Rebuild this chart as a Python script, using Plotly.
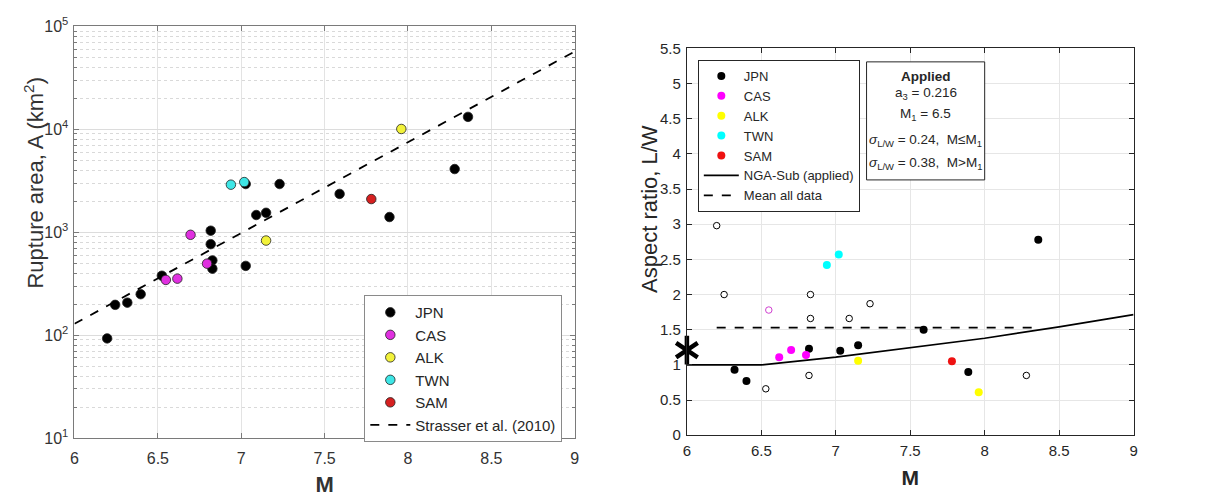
import plotly.graph_objects as go

# ---------------- Left panel: rupture area vs M ----------------
jpn_M = [6.196, 6.244, 6.317, 6.397, 6.524, 6.817, 6.817, 6.827, 6.827, 7.027,
         7.027, 7.09, 7.149, 7.23, 7.59, 7.889, 8.28, 8.36]
jpn_A = [93, 197, 207, 250, 378, 1035, 766, 532, 442, 471,
         2940, 1470, 1545, 2940, 2355, 1405, 4110, 13200]
cas_M = [6.548, 6.617, 6.696, 6.795]
cas_A = [344, 354, 944, 495]
alk_M = [7.149, 7.96]
alk_A = [830, 10070]
twn_M = [6.938, 7.018]
twn_A = [2897, 3070]
sam_M = [7.78]
sam_A = [2100]
strasser_M = [6.0, 9.0]
strasser_A = [129, 57000]
ytick_vals = [10, 100, 1000, 10000, 100000]
ytick_text = ["10<sup>1</sup>", "10<sup>2</sup>", "10<sup>3</sup>", "10<sup>4</sup>", "10<sup>5</sup>"]

# ---------------- Right panel: aspect ratio vs M ----------------
jpn_M2 = [6.32, 6.40, 6.82, 7.03, 7.15, 7.59, 7.89, 8.36]
jpn_LW = [0.93, 0.77, 1.23, 1.20, 1.28, 1.50, 0.90, 2.78]
cas_M2 = [6.62, 6.70, 6.80]
cas_LW = [1.11, 1.21, 1.14]
alk_M2 = [7.15, 7.96]
alk_LW = [1.06, 0.61]
twn_M2 = [6.94, 7.02]
twn_LW = [2.42, 2.57]
sam_M2 = [7.78]
sam_LW = [1.05]
open_M = [6.20, 6.25, 6.53, 6.83, 6.83, 6.82, 7.03, 7.09, 7.23, 8.28]
open_LW = [2.98, 2.00, 0.66, 2.00, 1.66, 0.85, 3.33, 1.66, 1.87, 0.85]
open_cas_M = [6.55]
open_cas_LW = [1.78]
nga_M = [6.0, 6.5, 7.0, 7.5, 8.0, 8.5, 9.0]
nga_LW = [1.0, 1.0, 1.11, 1.24, 1.38, 1.54, 1.715]
mean_M = [6.2, 8.37]
mean_LW = [1.53, 1.53]
star_M = [6.0]
star_LW = [1.21]

box_lines = ["<b>Applied</b>",
             "a<sub>3</sub> = 0.216",
             "M<sub>1</sub> = 6.5",
             "<i>σ</i><sub>L/W</sub> = 0.24,  M≤M<sub>1</sub>",
             "<i>σ</i><sub>L/W</sub> = 0.38,  M>M<sub>1</sub>"]

W, H = 1214, 497
FONT = "Liberation Sans, Arial, sans-serif"

fig = go.Figure()

def lscat(x, y, color, name):
    fig.add_trace(go.Scatter(
        x=x, y=y, mode="markers", name=name, xaxis="x", yaxis="y",
        marker=dict(size=9.5, color=color, line=dict(color="#222222", width=0.8)),
        legend="legend"))

lscat(jpn_M, jpn_A, "#000000", "JPN")
lscat(cas_M, cas_A, "#e030e0", "CAS")
lscat(alk_M, alk_A, "#f2f23a", "ALK")
lscat(twn_M, twn_A, "#3ee6e6", "TWN")
lscat(sam_M, sam_A, "#d62020", "SAM")
fig.add_trace(go.Scatter(
    x=strasser_M, y=strasser_A, mode="lines", name="Strasser et al. (2010)",
    xaxis="x", yaxis="y", line=dict(color="black", width=1.8, dash="dash"),
    legend="legend"))

# right panel
fig.add_trace(go.Scatter(
    x=open_M, y=open_LW, mode="markers", showlegend=False, xaxis="x2", yaxis="y2",
    marker=dict(size=6.5, color="white", line=dict(color="black", width=1))))
fig.add_trace(go.Scatter(
    x=open_cas_M, y=open_cas_LW, mode="markers", showlegend=False, xaxis="x2", yaxis="y2",
    marker=dict(size=6.5, color="white", line=dict(color="#d040d0", width=1))))

def rscat(x, y, color, name):
    fig.add_trace(go.Scatter(
        x=x, y=y, mode="markers", name=name, xaxis="x2", yaxis="y2",
        marker=dict(size=8, color=color, line=dict(width=0)),
        legend="legend2"))

rscat(jpn_M2, jpn_LW, "#000000", "JPN")
rscat(cas_M2, cas_LW, "#ff00ff", "CAS")
rscat(alk_M2, alk_LW, "#ffff00", "ALK")
rscat(twn_M2, twn_LW, "#00ffff", "TWN")
rscat(sam_M2, sam_LW, "#ee1111", "SAM")
fig.add_trace(go.Scatter(
    x=nga_M, y=nga_LW, mode="lines", name="NGA-Sub (applied)", xaxis="x2", yaxis="y2",
    line=dict(color="black", width=1.6), legend="legend2"))
fig.add_trace(go.Scatter(
    x=mean_M, y=mean_LW, mode="lines", name="Mean all data", xaxis="x2", yaxis="y2",
    line=dict(color="black", width=1.8, dash="dash"), legend="legend2"))
for sym in ["y-up", "y-down"]:
    fig.add_trace(go.Scatter(
        x=star_M, y=star_LW, mode="markers", showlegend=False, xaxis="x2", yaxis="y2",
        cliponaxis=False,
        marker=dict(symbol=sym, size=18, color="black", line=dict(color="black", width=4.5))))

minor_vals = [m * 10 ** k for k in range(1, 5) for m in range(2, 10)]

common = dict(showline=True, mirror="allticks", ticks="inside", ticklen=5, zeroline=False)

# text box in right panel
box_x0, box_x1, box_y0, box_y1 = 869, 988, 53, 176
line_centers = [68, 86, 108, 135, 159]
annotations = []
for txt, yc in zip(box_lines, line_centers):
    annotations.append(dict(
        xref="paper", yref="paper", x=(box_x0 + box_x1) / 2 / W, y=1 - yc / H,
        xanchor="center", yanchor="middle", showarrow=False, text=txt,
        font=dict(size=13.5, color="#262626", family=FONT)))
annotations.append(dict(
    xref="paper", yref="paper", x=30 / W, y=1 - 179 / H,
    xanchor="center", yanchor="middle", showarrow=False, textangle=-90,
    text="Rupture area, A (km<sup>2</sup>)",
    font=dict(size=22, color="#333333", family=FONT)))
annotations.append(dict(
    xref="paper", yref="paper", x=651 / W, y=1 - 206 / H,
    xanchor="center", yanchor="middle", showarrow=False, textangle=-90,
    text="Aspect ratio, L/W",
    font=dict(size=22, color="#262626", family=FONT)))

fig.update_layout(
    width=W, height=H,
    margin=dict(l=0, r=0, t=0, b=0),
    paper_bgcolor="white", plot_bgcolor="white",
    font=dict(family=FONT, color="#262626"),
    xaxis=dict(domain=[71 / W, 575 / W], range=[6, 9], dtick=0.5, anchor="y",
               showgrid=True, gridcolor="#e3e3e3", linecolor="#7a7a7a", tickcolor="#7a7a7a",
               tickfont=dict(size=16, color="#333333", family=FONT), ticklabelstandoff=6,
               title=dict(text="<b>M</b>", font=dict(size=22, color="#333333"), standoff=10),
               **common),
    yaxis=dict(domain=[1 - 445 / H, 1 - 16 / H], type="log", range=[1, 5], anchor="x",
               tickvals=ytick_vals, ticktext=ytick_text,
               tickfont=dict(size=16, color="#333333", family=FONT), ticklabelstandoff=2,
               showgrid=True, gridcolor="#dcdcdc", linecolor="#7a7a7a", tickcolor="#7a7a7a",
               minor=dict(tickvals=minor_vals, showgrid=True, gridcolor="#d9d9d9",
                          griddash="dot", ticks="inside", ticklen=3, tickcolor="#7a7a7a"),
               **common),
    xaxis2=dict(domain=[688 / W, 1138 / W], range=[6, 9], dtick=0.5, anchor="y2",
                showgrid=True, gridcolor="#e6e6e6", linecolor="#262626", tickcolor="#262626",
                tickfont=dict(size=15, color="#262626", family=FONT), ticklabelstandoff=2,
                title=dict(text="<b>M</b>", font=dict(size=21, color="#262626"), standoff=12),
                **common),
    yaxis2=dict(domain=[1 - 442 / H, 1 - 39 / H], range=[0, 5.5], dtick=0.5, anchor="x2",
                showgrid=True, gridcolor="#e6e6e6", linecolor="#262626", tickcolor="#262626",
                tickfont=dict(size=15, color="#262626", family=FONT), ticklabelstandoff=2,
                **common),
    legend=dict(x=363 / W, y=1 - 296 / H, xanchor="left", yanchor="top",
                bgcolor="white", bordercolor="#8a8a8a", borderwidth=1,
                font=dict(size=15, color="#262626", family=FONT),
                itemwidth=40, tracegroupgap=0),
    legend2=dict(x=699 / W, y=1 - 51 / H, xanchor="left", yanchor="top",
                 bgcolor="white", bordercolor="#262626", borderwidth=1,
                 font=dict(size=13, color="#262626", family=FONT),
                 itemwidth=35, tracegroupgap=0),
    shapes=[dict(type="rect", xref="paper", yref="paper",
                 x0=box_x0 / W, x1=box_x1 / W, y0=1 - box_y1 / H, y1=1 - box_y0 / H,
                 line=dict(color="#262626", width=1), fillcolor="white", layer="above")],
    annotations=annotations,
)

fig.write_html("out.html")
